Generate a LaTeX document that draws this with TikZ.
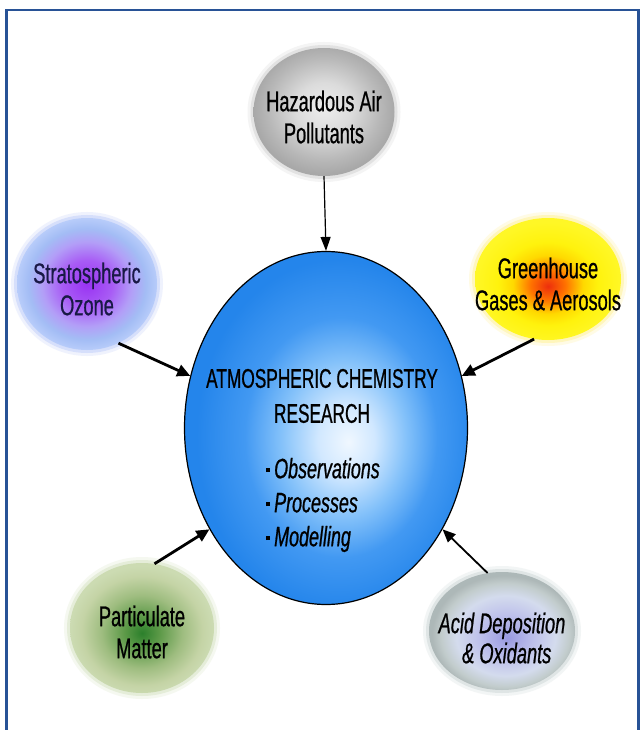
\documentclass[tikz,border=0pt]{standalone}
\usepackage{fontspec}
\newfontfamily\nar[FakeStretch=0.64,FakeBold=0.7]{Liberation Sans}
\usetikzlibrary{arrows.meta,shapes.geometric}
\definecolor{framecol}{RGB}{40,82,150}
\definecolor{halostrat}{RGB}{185,200,250}
\definecolor{halogreen}{RGB}{255,240,140}
\definecolor{halohaz}{RGB}{205,205,205}
\definecolor{halopart}{RGB}{210,225,190}
\definecolor{haloacid}{RGB}{200,210,210}
\definecolor{navytext}{RGB}{25,25,70}
\pgfdeclareradialshading{mainsh}{\pgfpoint{4bp}{-2bp}}{rgb(0bp)=(0.94,0.97,1);rgb(5bp)=(0.82,0.91,1);rgb(11bp)=(0.52,0.76,0.98);rgb(17bp)=(0.26,0.6,0.95);rgb(25bp)=(0.14,0.52,0.92);rgb(50bp)=(0.14,0.52,0.92)}
\pgfdeclareradialshading{stratsh}{\pgfpoint{0bp}{0bp}}{rgb(0bp)=(0.6,0.2,0.95);rgb(9bp)=(0.66,0.36,0.96);rgb(16bp)=(0.7,0.62,0.97);rgb(21bp)=(0.64,0.74,0.96);rgb(25bp)=(0.72,0.8,0.98);rgb(50bp)=(0.72,0.8,0.98)}
\pgfdeclareradialshading{greensh}{\pgfpoint{0bp}{-3bp}}{rgb(0bp)=(0.93,0.18,0.05);rgb(6bp)=(1,0.45,0);rgb(12bp)=(1,0.85,0);rgb(17bp)=(1,0.95,0.05);rgb(25bp)=(1,0.97,0.15);rgb(50bp)=(1,0.97,0.15)}
\pgfdeclareradialshading{hazsh}{\pgfpoint{0bp}{2bp}}{rgb(0bp)=(0.93,0.93,0.93);rgb(10bp)=(0.86,0.86,0.86);rgb(20bp)=(0.72,0.72,0.72);rgb(25bp)=(0.66,0.66,0.66);rgb(50bp)=(0.66,0.66,0.66)}
\pgfdeclareradialshading{partsh}{\pgfpoint{0bp}{-2bp}}{rgb(0bp)=(0.17,0.5,0.17);rgb(6bp)=(0.36,0.6,0.28);rgb(14bp)=(0.62,0.74,0.5);rgb(21bp)=(0.77,0.83,0.65);rgb(25bp)=(0.8,0.86,0.7);rgb(50bp)=(0.8,0.86,0.7)}
\pgfdeclareradialshading{acidsh}{\pgfpoint{2bp}{-3bp}}{rgb(0bp)=(0.6,0.6,0.88);rgb(9bp)=(0.74,0.75,0.92);rgb(17bp)=(0.83,0.86,0.93);rgb(22bp)=(0.76,0.8,0.8);rgb(25bp)=(0.68,0.72,0.72);rgb(50bp)=(0.68,0.72,0.72)}
\begin{document}
\begin{tikzpicture}[x=1pt,y=-1pt,
  blob/.style={ellipse, inner sep=0pt, minimum width=#1},
  halo/.style={preaction={draw=#1, line width=12pt, opacity=0.22},
               preaction={draw=#1, line width=6pt, opacity=0.45}},
  ntext/.style={font=\nar\fontsize{28.5}{32}\selectfont, align=center},
  thinarrow/.style={line width=1.2pt, -{Triangle[length=14pt,width=10pt]}},
  thickarrow/.style={line width=2.8pt, -{Triangle[length=13pt,width=12pt]}},
  medarrow/.style={line width=1.8pt, -{Triangle[length=13pt,width=11pt]}}]
\useasboundingbox (0,0) rectangle (640,730);
\fill[white] (0,0) rectangle (640,730);
\draw[framecol, line width=2.2pt] (6.5,731) -- (6.5,10) -- (638.5,10) -- (638.5,731);

\node[blob=141pt, minimum height=128pt, shading=hazsh, halo=halohaz,
  label={[ntext, yshift=-5pt]center:{Hazardous Air\\Pollutants}}] (haz) at (324,112) {};
\node[blob=140pt, minimum height=132pt, shading=stratsh, halo=halostrat,
  label={[ntext, text=navytext, yshift=-5pt]center:{Stratospheric\\Ozone}}] (strat) at (87,284) {};
\node[blob=146pt, minimum height=122pt, shading=greensh, halo=halogreen,
  label={[ntext, yshift=-5pt]center:{Greenhouse\\Gases \& Aerosols}}] (green) at (548,279) {};
\node[blob=144pt, minimum height=130pt, shading=partsh, halo=halopart,
  label={[ntext, yshift=-4pt]center:{Particulate\\Matter}}] (part) at (142,628) {};
\node[blob=146pt, minimum height=118pt, shading=acidsh, halo=haloacid,
  label={[ntext, font=\nar\itshape\fontsize{28.5}{30}\selectfont, yshift=-7pt]center:{Acid Deposition\\\,\,\& Oxidants}}] (acid) at (502,631) {};

\node[blob=283pt, minimum height=353pt, shading=mainsh, draw=black, line width=1.2pt] (main) at (326,428) {};
\node[font=\nar\fontsize{27}{35}\selectfont, align=center] (title) at (322,396) {ATMOSPHERIC CHEMISTRY\\RESEARCH};
\node[font=\nar\fontsize{28}{34}\selectfont, align=left, anchor=west] (list) at (262,505)
  {\rule[6pt]{4pt}{4.5pt}\,\textit{Observations}\\
   \rule[6pt]{4pt}{4.5pt}\,\textit{Processes}\\
   \rule[6pt]{4pt}{4.5pt}\,\textit{Modelling}};

\draw[thinarrow] (haz.south) -- (main.north);
\draw[thickarrow] (strat.-62) -- (main.159);
\draw[thickarrow] (green.-103) -- (main.21);
\draw[thickarrow] (part.79) -- (main.-139);
\draw[medarrow] (acid.104) -- (main.-41);
\end{tikzpicture}
\end{document}
